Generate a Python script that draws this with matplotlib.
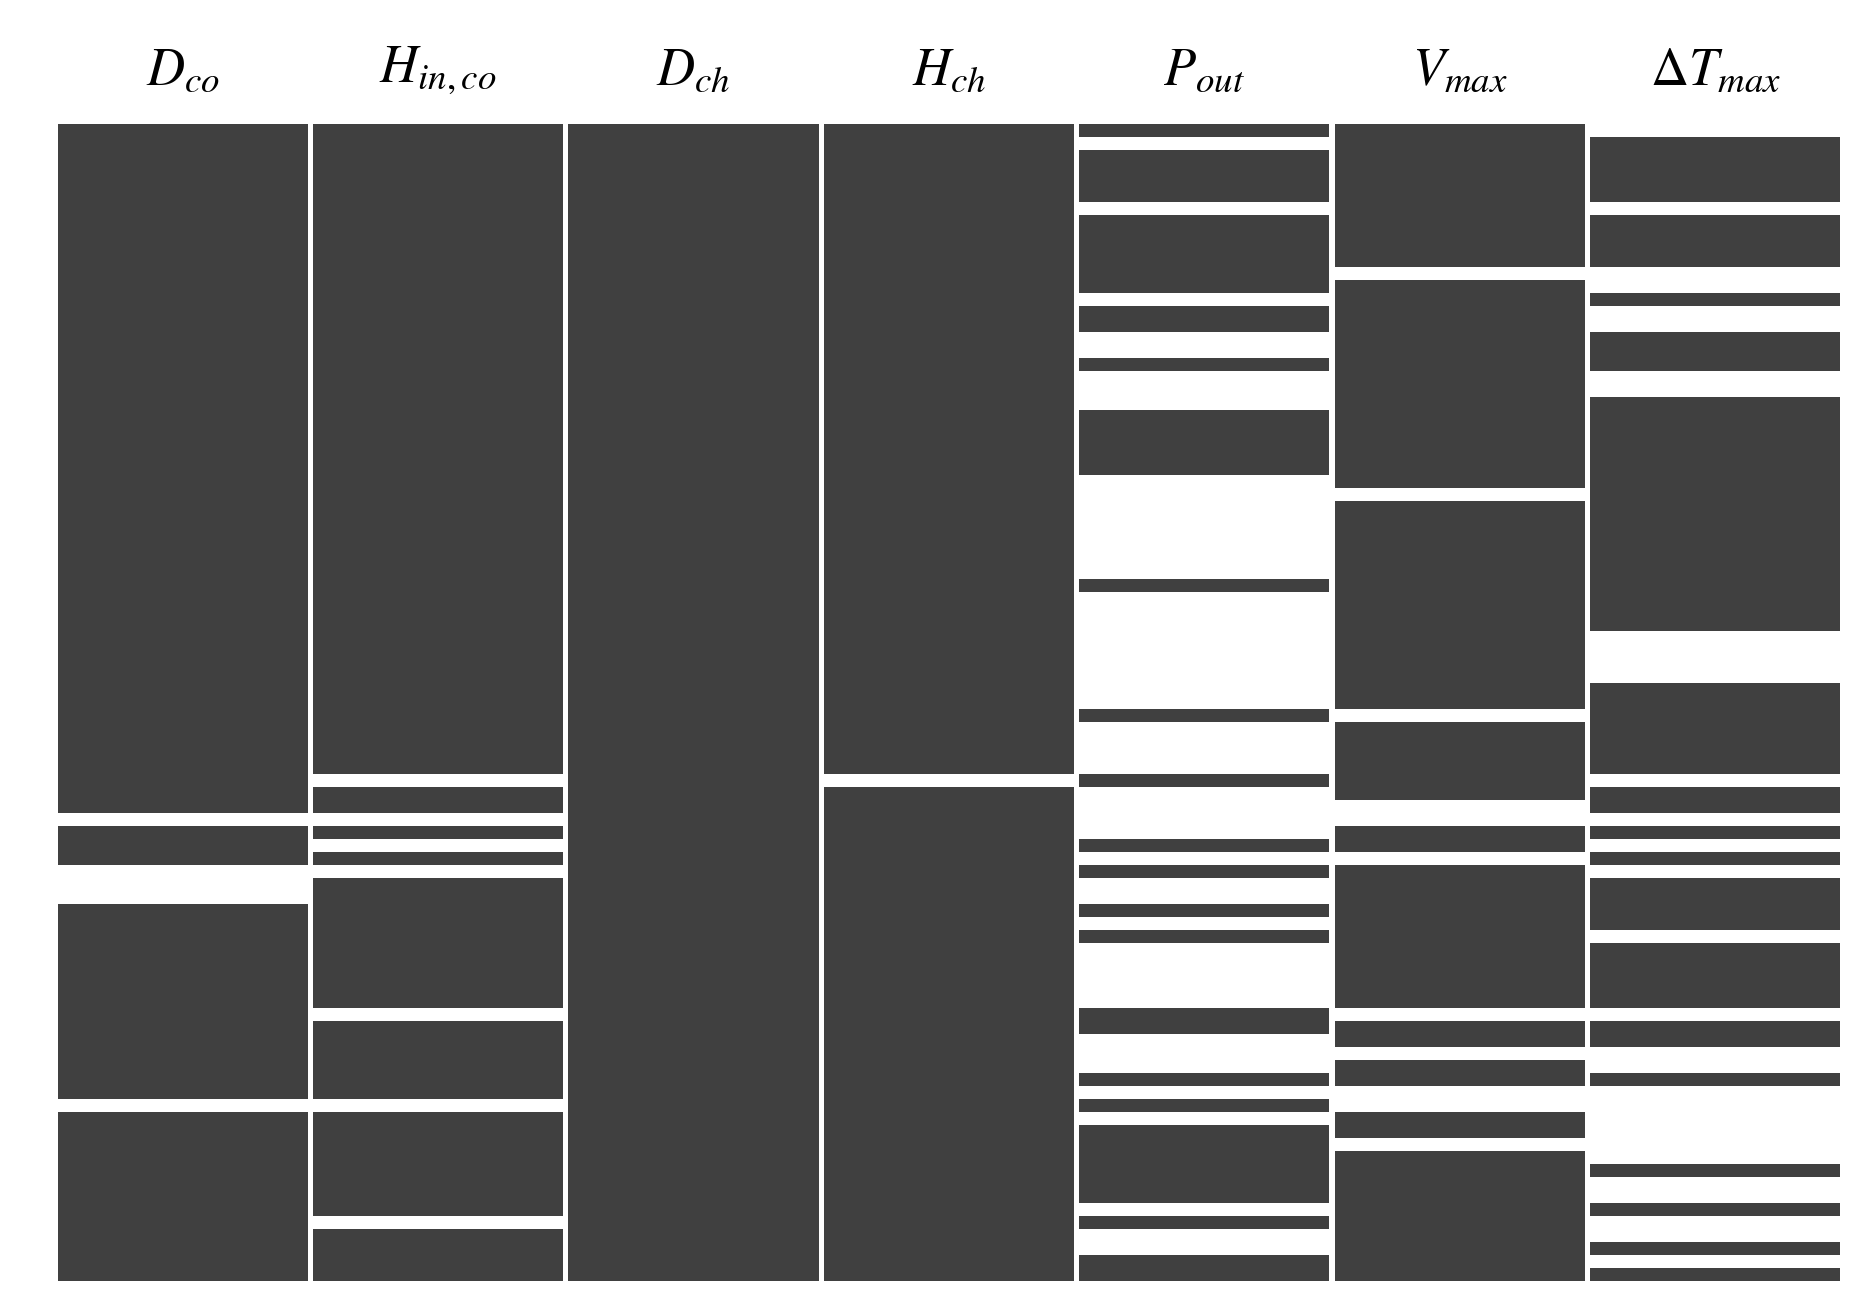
import matplotlib
matplotlib.use("Agg")
import matplotlib.pyplot as plt

plt.rcParams['mathtext.fontset'] = 'stix'

labels = [r'$D_{co}$', r'$H_{in,co}$', r'$D_{ch}$', r'$H_{ch}$', r'$P_{out}$', r'$V_{max}$', r'$\Delta T_{max}$']
D_co = [(0, 53), (54, 57), (60, 75), (76, 89)]
H_in_co = [(0, 50), (51, 53), (54, 55), (56, 57), (58, 68), (69, 75), (76, 84), (85, 89)]
D_ch = [(0, 89)]
H_ch = [(0, 50), (51, 89)]
P_out = [(0, 1), (2, 6), (7, 13), (14, 16), (18, 19), (22, 27), (35, 36), (45, 46), (50, 51),
         (55, 56), (57, 58), (60, 61), (62, 63), (68, 70), (73, 74), (75, 76), (77, 83), (84, 85), (87, 89)]
V_max = [(0, 11), (12, 28), (29, 45), (46, 52), (54, 56), (57, 68), (69, 71), (72, 74), (76, 78), (79, 89)]
dT_max = [(1, 6), (7, 11), (13, 14), (16, 19), (21, 39), (43, 50), (51, 53), (54, 55), (56, 57),
          (58, 62), (63, 68), (69, 71), (73, 74), (80, 81), (83, 84), (86, 87), (88, 89)]
columns = [D_co, H_in_co, D_ch, H_ch, P_out, V_max, dT_max]

fig = plt.figure(figsize=(18.68, 13.15), dpi=100)
ax = fig.add_axes([0.0295, 1 - 0.9745, 0.957, 0.9745 - 0.0945])
for i, segs in enumerate(columns):
    for s, e in segs:
        ax.bar(i + 0.5, e - s, bottom=s, width=0.98, color='#404040', linewidth=0)
    ax.text(i + 0.5, -4.2, labels[i], ha='center', va='center', fontsize=38)
ax.set_xlim(0, 7)
ax.set_ylim(89, 0)
ax.axis('off')
fig.savefig('out.png', dpi=100, facecolor='white')
